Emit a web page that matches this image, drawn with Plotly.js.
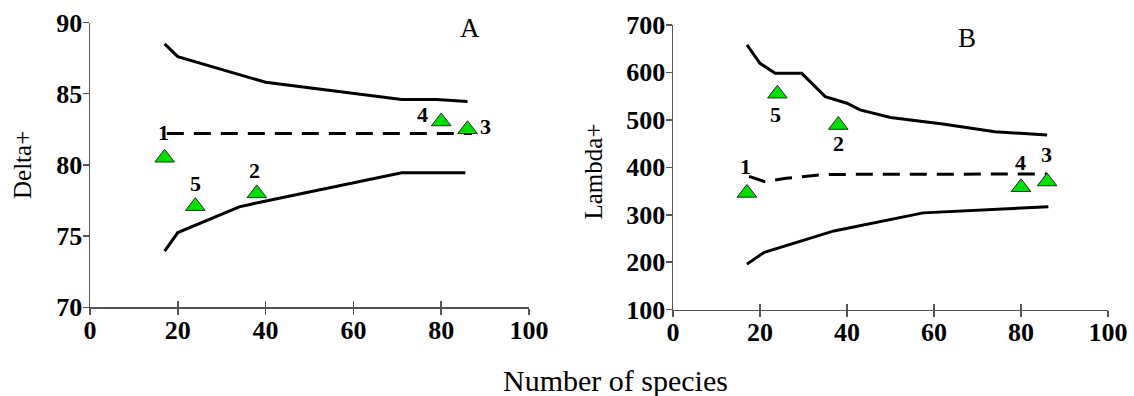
<!DOCTYPE html>
<html>
<head>
<meta charset="utf-8">
<script src="https://cdn.plot.ly/plotly-3.0.1.min.js"></script>
<style>html,body{margin:0;padding:0;background:#fff;}#chart{width:1134px;height:396px;}</style>
</head>
<body>
<div id="chart"></div>
<script>
// ---- data ----
const siteLabels = ['1', '2', '3', '4', '5'];
const siteSpecies = [17, 38, 86, 80, 24];
const deltaSites = [80.5, 78.0, 82.5, 83.05, 77.1];
const lambdaSites = [346, 489, 370, 358, 555];

const deltaUpperX = [17, 20, 40, 71, 79, 86];
const deltaUpperY = [88.5, 87.6, 85.8, 84.6, 84.6, 84.45];
const deltaLowerX = [17, 20, 34, 39, 71, 85.5];
const deltaLowerY = [73.95, 75.25, 77.05, 77.4, 79.45, 79.45];
const deltaMeanX = [17.5, 87];
const deltaMeanY = [82.2, 82.2];

const lambdaUpperX = [17, 20, 23.5, 29.6, 35, 40, 43, 50, 62, 74, 86];
const lambdaUpperY = [658, 619, 598, 598, 549, 535, 521, 505, 491, 475, 468];
const lambdaLowerX = [17, 21, 37, 57.5, 86.3];
const lambdaLowerY = [196, 221, 266, 304, 317];
const lambdaMeanX = [17.5, 21, 26, 30, 35, 86];
const lambdaMeanY = [381, 370, 377, 380, 385, 386];

const xTicks = [0, 20, 40, 60, 80, 100];
const deltaTicks = [70, 75, 80, 85, 90];
const lambdaTicks = [100, 200, 300, 400, 500, 600, 700];

// ---- styles ----
const serif = 'Liberation Serif, Times New Roman, serif';
const lineStyle = {color: '#000', width: 3};
const dashStyle = {color: '#000', width: 3, dash: '17px,10px'};
const markerStyle = {symbol: 'triangle-up', size: 17, color: '#00E000', line: {color: '#2a2a2a', width: 1}};
// label offsets (px) per site, for each panel
const offA = {'1': [-1, 25], '2': [-2, 23], '3': [18, 3], '4': [-19, 7], '5': [0, 23]};
const offB = {'1': [-1, 26], '2': [0, -18], '3': [-1, 27], '4': [-1, 25], '5': [-2, -21]};

const traces = [
  {x: deltaUpperX, y: deltaUpperY, mode: 'lines', line: lineStyle, xaxis: 'x', yaxis: 'y'},
  {x: deltaLowerX, y: deltaLowerY, mode: 'lines', line: lineStyle, xaxis: 'x', yaxis: 'y'},
  {x: deltaMeanX, y: deltaMeanY, mode: 'lines', line: dashStyle, xaxis: 'x', yaxis: 'y'},
  {x: siteSpecies, y: deltaSites, mode: 'markers', marker: markerStyle, xaxis: 'x', yaxis: 'y'},
  {x: lambdaUpperX, y: lambdaUpperY, mode: 'lines', line: lineStyle, xaxis: 'x2', yaxis: 'y2'},
  {x: lambdaLowerX, y: lambdaLowerY, mode: 'lines', line: lineStyle, xaxis: 'x2', yaxis: 'y2'},
  {x: lambdaMeanX, y: lambdaMeanY, mode: 'lines', line: dashStyle, xaxis: 'x2', yaxis: 'y2'},
  {x: siteSpecies, y: lambdaSites, mode: 'markers', marker: markerStyle, xaxis: 'x2', yaxis: 'y2'},
  {x: [], y: [], xaxis: 'x3', yaxis: 'y'},
  {x: [], y: [], xaxis: 'x4', yaxis: 'y2'}
];

const tickFont = {family: serif, size: 26, color: '#000', weight: 'bold'};
const axisCommon = {
  showline: true, linecolor: '#555', linewidth: 1.5,
  ticks: 'outside', ticklen: 6, tickwidth: 1.5, tickcolor: '#555',
  showgrid: false, zeroline: false, tickfont: tickFont, fixedrange: true
};
const W = 1134, H = 396;
const xA = [90 / W, 529 / W], xB = [673 / W, 1108 / W];
const yA = [(H - 307.3) / H, (H - 22.5) / H], yB = [(H - 309.7) / H, (H - 24.9) / H];

const annotations = [];
const labFont = {family: serif, size: 22, color: '#000', weight: 'bold'};
siteLabels.forEach((lab, i) => {
  annotations.push({x: siteSpecies[i], y: deltaSites[i], xref: 'x', yref: 'y', text: lab, showarrow: false,
    xanchor: 'center', yanchor: 'middle', xshift: offA[lab][0], yshift: offA[lab][1], font: labFont});
  annotations.push({x: siteSpecies[i], y: lambdaSites[i], xref: 'x2', yref: 'y2', text: lab, showarrow: false,
    xanchor: 'center', yanchor: 'middle', xshift: offB[lab][0], yshift: offB[lab][1], font: labFont});
});
function paperText(px, py, text, size, angle) {
  return {x: px / W, y: (H - py) / H, xref: 'paper', yref: 'paper', text: text, showarrow: false,
    xanchor: 'center', yanchor: 'middle', textangle: angle || 0, font: {family: serif, size: size, color: '#000'}};
}
annotations.push(paperText(470, 28, 'A', 27));
annotations.push(paperText(967, 38, 'B', 27));
annotations.push(paperText(615, 380, 'Number of species', 30));
annotations.push(paperText(23, 165, 'Delta+', 25, -90));
annotations.push(paperText(593, 171.5, 'Lambda+', 25, -90));

const layout = {
  width: W, height: H, margin: {l: 0, r: 0, t: 0, b: 0},
  paper_bgcolor: '#fff', plot_bgcolor: '#fff', showlegend: false,
  xaxis: Object.assign({}, axisCommon, {domain: xA, range: [0, 100], tickvals: xTicks, anchor: 'y', ticklabelstandoff: -7}),
  yaxis: Object.assign({}, axisCommon, {domain: yA, range: [70, 90], tickvals: deltaTicks, anchor: 'x', ticklabelstandoff: -5}),
  xaxis2: Object.assign({}, axisCommon, {domain: xB, range: [0, 100], tickvals: xTicks, anchor: 'y2', ticklabelstandoff: -7}),
  yaxis2: Object.assign({}, axisCommon, {domain: yB, range: [100, 700], tickvals: lambdaTicks, anchor: 'x2', ticklabelstandoff: -5}),
  xaxis3: Object.assign({}, axisCommon, {overlaying: 'x', range: [0, 100], tickvals: xTicks, anchor: 'y',
    ticks: 'inside', showticklabels: false, showline: false}),
  xaxis4: Object.assign({}, axisCommon, {overlaying: 'x2', range: [0, 100], tickvals: xTicks, anchor: 'y2',
    ticks: 'inside', showticklabels: false, showline: false}),
  annotations: annotations
};

Plotly.newPlot('chart', traces, layout, {displayModeBar: false, staticPlot: true});
</script>
</body>
</html>
